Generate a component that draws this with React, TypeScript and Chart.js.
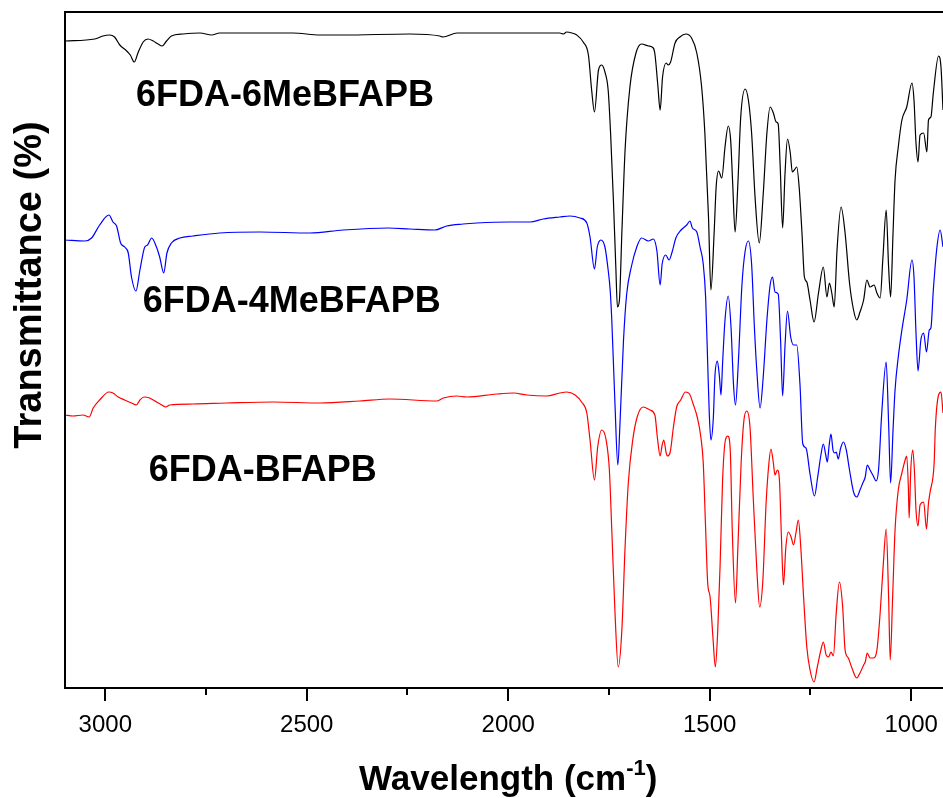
import React, { useEffect, useRef } from "react";
import { Chart, registerables } from "chart.js";

Chart.register(...registerables);

// ---- data (wavenumber cm^-1, transmittance in arbitrary offset units) ----
const xMajorTicks = [3000, 2500, 2000, 1500, 1000];
const xMinorTicks = [2750, 2250, 1750, 1250];
const xAxisTitle = "Wavelength (cm";
const xAxisTitleSup = "-1";
const yAxisTitle = "Transmittance (%)";
const seriesNames = ["6FDA-6MeBFAPB", "6FDA-4MeBFAPB", "6FDA-BFAPB"];
const seriesColors = ["#000000", "#0000ff", "#ff0000"];
const labelAnchors: [number, number][] = [
  [2924, 582],
  [2907, 376],
  [2892, 207],
];

const spec6MeBFAPB: [number, number][] = [
  [3100, 647], [3026, 649], [3006, 652], [2989, 653], [2977, 651], [2964, 643], [2947, 637], [2938, 633],
  [2928, 626], [2919, 635], [2906, 646], [2894, 649], [2881, 647], [2869, 644], [2859, 642], [2848, 647],
  [2836, 652], [2807, 654], [2765, 655], [2736, 653], [2716, 655], [2616, 655], [2535, 655], [2467, 653],
  [2410, 653], [2244, 654], [2170, 652], [2162, 651], [2127, 655], [1996, 655], [1872, 655], [1863, 654],
  [1855, 656], [1842, 655], [1830, 653], [1814, 646], [1801, 633], [1793, 598], [1786, 576], [1776, 618],
  [1768, 623], [1760, 616], [1752, 598], [1746, 555], [1739, 488], [1733, 421], [1729, 381], [1724, 388],
  [1718, 455], [1710, 538], [1698, 601], [1683, 635], [1669, 644], [1652, 642], [1640, 640], [1636, 634],
  [1629, 604], [1623, 578], [1617, 611], [1608, 625], [1603, 623], [1597, 626], [1586, 645], [1574, 651],
  [1559, 654], [1545, 650], [1532, 635], [1520, 601], [1512, 555], [1503, 471], [1497, 398], [1489, 455],
  [1484, 501], [1478, 517], [1470, 510], [1462, 541], [1454, 562], [1448, 548], [1443, 505], [1437, 456],
  [1430, 505], [1423, 571], [1412, 599], [1404, 588], [1396, 555], [1387, 488], [1377, 445], [1367, 495],
  [1358, 555], [1350, 581], [1342, 575], [1335, 566], [1330, 564], [1325, 521], [1319, 460], [1313, 515],
  [1307, 549], [1300, 535], [1295, 516], [1290, 518], [1284, 521], [1278, 501], [1271, 455], [1265, 411],
  [1259, 406], [1251, 388], [1241, 366], [1230, 395], [1218, 421], [1209, 391], [1203, 405], [1197, 395],
  [1191, 381], [1184, 438], [1174, 481], [1164, 455], [1153, 405], [1143, 378], [1135, 368], [1127, 376],
  [1118, 388], [1110, 408], [1102, 401], [1092, 403], [1085, 395], [1077, 390], [1070, 431], [1062, 478],
  [1056, 421], [1051, 391], [1045, 455], [1040, 508], [1032, 541], [1023, 568], [1011, 581], [998, 605],
  [993, 588], [988, 545], [983, 526], [978, 553], [969, 555], [961, 536], [957, 568], [951, 571],
  [945, 595], [932, 632], [926, 621], [921, 578],
];

const spec4MeBFAPB: [number, number][] = [
  [3100, 448], [3051, 447], [3034, 450], [3014, 463], [2991, 473], [2981, 466], [2972, 462], [2962, 445],
  [2952, 441], [2943, 435], [2935, 411], [2924, 397], [2914, 418], [2902, 441], [2895, 443], [2885, 450],
  [2873, 441], [2865, 431], [2855, 415], [2847, 435], [2836, 445], [2815, 450], [2782, 452], [2716, 455],
  [2616, 456], [2492, 455], [2410, 458], [2298, 460], [2244, 459], [2182, 458], [2153, 462], [2112, 464],
  [2078, 465], [1996, 466], [1946, 466], [1913, 469], [1872, 471], [1847, 472], [1822, 470], [1805, 465],
  [1797, 451], [1786, 419], [1779, 441], [1770, 448], [1760, 441], [1752, 418], [1747, 398], [1743, 368],
  [1735, 283], [1728, 223], [1723, 261], [1714, 347], [1706, 394], [1694, 422], [1681, 441], [1669, 450],
  [1652, 447], [1640, 449], [1631, 437], [1623, 403], [1618, 424], [1609, 433], [1601, 428], [1594, 435],
  [1584, 450], [1571, 458], [1557, 463], [1549, 467], [1543, 460], [1532, 456], [1524, 441], [1516, 424],
  [1510, 390], [1505, 325], [1501, 274], [1497, 248], [1491, 270], [1487, 312], [1481, 327], [1476, 312],
  [1472, 293], [1468, 325], [1462, 368], [1454, 392], [1447, 360], [1441, 304], [1436, 283], [1429, 325],
  [1420, 403], [1412, 437], [1404, 447], [1396, 424], [1389, 360], [1383, 317], [1375, 280], [1367, 312],
  [1358, 368], [1350, 403], [1344, 411], [1338, 396], [1330, 394], [1324, 347], [1319, 292], [1313, 343],
  [1307, 377], [1299, 351], [1292, 343], [1284, 343], [1276, 304], [1269, 244], [1261, 240], [1251, 214],
  [1240, 192], [1232, 211], [1224, 233], [1218, 244], [1212, 233], [1208, 226], [1204, 241], [1199, 254],
  [1194, 238], [1190, 235], [1186, 236], [1181, 229], [1175, 240], [1168, 246], [1161, 238], [1153, 218],
  [1143, 196], [1135, 191], [1127, 198], [1120, 205], [1114, 211], [1109, 223], [1102, 218], [1094, 212],
  [1087, 207], [1081, 218], [1073, 275], [1062, 326], [1056, 265], [1051, 205], [1045, 258], [1040, 298],
  [1032, 331], [1023, 358], [1011, 388], [998, 428], [993, 411], [988, 355], [983, 317], [976, 348],
  [969, 355], [962, 336], [955, 358], [951, 360], [945, 398], [936, 441], [928, 458], [921, 441],
];

const specBFAPB: [number, number][] = [
  [3100, 273], [3080, 272], [3055, 273], [3040, 271], [3030, 280], [3014, 288], [2991, 296], [2981, 295],
  [2968, 291], [2952, 288], [2935, 285], [2923, 283], [2914, 288], [2904, 291], [2890, 290], [2873, 286],
  [2860, 283], [2850, 281], [2840, 283], [2782, 284], [2699, 285], [2583, 286], [2467, 285], [2368, 287],
  [2294, 289], [2178, 287], [2161, 290], [2128, 292], [2103, 291], [2029, 294], [1987, 295], [1954, 293],
  [1905, 292], [1872, 295], [1855, 296], [1834, 293], [1818, 286], [1805, 275], [1797, 248], [1786, 208],
  [1778, 241], [1768, 258], [1757, 248], [1749, 218], [1743, 158], [1735, 75], [1727, 21], [1718, 58],
  [1710, 141], [1702, 205], [1691, 248], [1680, 271], [1665, 281], [1648, 278], [1636, 273], [1630, 251],
  [1623, 232], [1618, 243], [1614, 248], [1608, 235], [1605, 232], [1598, 236], [1590, 261], [1582, 281],
  [1572, 288], [1560, 296], [1550, 294], [1541, 284], [1531, 271], [1522, 251], [1516, 225], [1510, 158],
  [1505, 105], [1499, 91], [1492, 51], [1486, 21], [1480, 58], [1474, 125], [1468, 208], [1461, 248],
  [1455, 252], [1449, 238], [1444, 158], [1436, 85], [1430, 141], [1422, 225], [1415, 268], [1408, 277],
  [1400, 261], [1392, 191], [1383, 118], [1376, 81], [1368, 108], [1360, 185], [1353, 225], [1348, 239],
  [1342, 225], [1338, 213], [1332, 218], [1327, 208], [1322, 151], [1317, 103], [1311, 141], [1305, 156],
  [1298, 151], [1292, 143], [1286, 155], [1280, 168], [1274, 141], [1267, 91], [1259, 41], [1251, 18],
  [1241, 6], [1233, 21], [1224, 38], [1218, 46], [1211, 33], [1205, 31], [1199, 36], [1193, 32],
  [1186, 75], [1178, 106], [1170, 81], [1164, 38], [1156, 30], [1147, 20], [1135, 10], [1127, 15],
  [1118, 23], [1114, 26], [1109, 35], [1102, 30], [1094, 30], [1085, 38], [1077, 75], [1069, 125],
  [1062, 159], [1056, 91], [1052, 28], [1046, 91], [1040, 158], [1032, 198], [1023, 215], [1015, 228],
  [1011, 232], [1007, 201], [1005, 170], [1001, 218], [996, 238], [992, 218], [988, 178], [983, 162],
  [978, 183], [969, 186], [962, 159], [957, 185], [953, 196], [943, 225], [940, 260], [932, 293],
  [926, 296], [921, 275],
];

const allSeries = [spec6MeBFAPB, spec4MeBFAPB, specBFAPB];

const FONT = "'Liberation Sans', Arial, Helvetica, sans-serif";

const decorPlugin = {
  id: "ftirDecor",
  afterDraw(chart: any) {
    const { ctx, chartArea: a, scales } = chart;
    const xs = scales.x;
    const ys = scales.y;
    ctx.save();
    ctx.strokeStyle = "#000";
    ctx.fillStyle = "#000";
    ctx.lineWidth = 2;
    // frame
    ctx.beginPath();
    ctx.moveTo(a.right + 2, a.top);
    ctx.lineTo(a.left, a.top);
    ctx.lineTo(a.left, a.bottom);
    ctx.lineTo(a.right + 2, a.bottom);
    ctx.stroke();
    // ticks
    ctx.beginPath();
    xMajorTicks.forEach((v) => {
      const px = Math.round(xs.getPixelForValue(v));
      ctx.moveTo(px, a.bottom);
      ctx.lineTo(px, a.bottom + 13);
    });
    xMinorTicks.forEach((v) => {
      const px = Math.round(xs.getPixelForValue(v));
      ctx.moveTo(px, a.bottom);
      ctx.lineTo(px, a.bottom + 7);
    });
    ctx.stroke();
    // tick labels
    ctx.font = `24px ${FONT}`;
    ctx.textAlign = "center";
    ctx.textBaseline = "alphabetic";
    xMajorTicks.forEach((v) => {
      ctx.fillText(String(v), xs.getPixelForValue(v), a.bottom + 44);
    });
    // x title with superscript
    const mainFont = `bold 35px ${FONT}`;
    const supFont = `bold 22px ${FONT}`;
    ctx.font = mainFont;
    const w1 = ctx.measureText(xAxisTitle).width;
    const w3 = ctx.measureText(")").width;
    ctx.font = supFont;
    const w2 = ctx.measureText(xAxisTitleSup).width;
    const total = w1 + w2 + w3;
    const cx = xs.getPixelForValue(2000);
    const baseY = a.bottom + 102;
    let sx = cx - total / 2;
    ctx.textAlign = "left";
    ctx.font = mainFont;
    ctx.fillText(xAxisTitle, sx, baseY);
    sx += w1;
    ctx.font = supFont;
    ctx.fillText(xAxisTitleSup, sx, baseY - 15);
    sx += w2;
    ctx.font = mainFont;
    ctx.fillText(")", sx, baseY);
    // y title
    ctx.save();
    ctx.translate(41, 285);
    ctx.rotate(-Math.PI / 2);
    ctx.textAlign = "center";
    ctx.font = `bold 38px ${FONT}`;
    ctx.fillText(yAxisTitle, 0, 0);
    ctx.restore();
    // series labels
    ctx.font = `bold 36px ${FONT}`;
    ctx.textAlign = "left";
    labelAnchors.forEach(([v, t], i) => {
      ctx.fillText(seriesNames[i], xs.getPixelForValue(v), ys.getPixelForValue(t));
    });
    ctx.restore();
  },
};

export default function App() {
  const ref = useRef<HTMLCanvasElement | null>(null);
  useEffect(() => {
    if (!ref.current) return;
    const chart = new Chart(ref.current, {
      type: "line",
      data: {
        datasets: allSeries.map((s, i) => ({
          label: seriesNames[i],
          data: s.map(([x, y]) => ({ x, y })),
          borderColor: seriesColors[i],
          backgroundColor: seriesColors[i],
          borderWidth: 1.2,
          pointRadius: 0,
          fill: false,
          cubicInterpolationMode: "monotone" as const,
        })),
      },
      options: {
        animation: false,
        responsive: false,
        devicePixelRatio: 1,
        layout: { padding: { left: 65, top: 12, right: 0, bottom: 110 } },
        plugins: { legend: { display: false }, tooltip: { enabled: false } },
        events: [],
        scales: {
          x: { type: "linear", reverse: true, min: 921, max: 3100, display: false },
          y: { type: "linear", min: 0, max: 676, display: false },
        },
      },
      plugins: [decorPlugin],
    });
    return () => chart.destroy();
  }, []);
  return (
    <div style={{ position: "fixed", left: 0, top: 0, width: 943, height: 798, background: "#fff" }}>
      <canvas ref={ref} width={943} height={798} style={{ display: "block" }} />
    </div>
  );
}
